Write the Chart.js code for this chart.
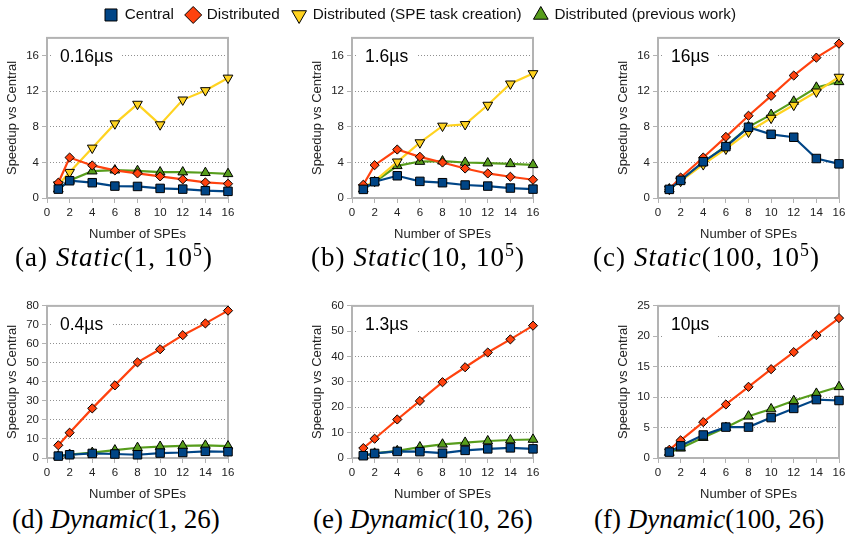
<!DOCTYPE html>
<html><head><meta charset="utf-8">
<script src="https://cdn.jsdelivr.net/npm/chart.js@4.4.0/dist/chart.umd.min.js"></script>
<style>
html,body{margin:0;padding:0;background:#fff;width:851px;height:543px;overflow:hidden;}
canvas{position:absolute;}
.cap{position:absolute;font-family:"Liberation Serif","Times New Roman",serif;font-size:27px;white-space:nowrap;line-height:28px;color:#000;}
.cap sup{font-size:0.66em;vertical-align:0;position:relative;top:-0.55em;}
</style></head><body>
<canvas id="legend"></canvas>
<canvas id="pa"></canvas><canvas id="pb"></canvas><canvas id="pc"></canvas>
<canvas id="pd"></canvas><canvas id="pe"></canvas><canvas id="pf"></canvas>
<div class="cap" id="ca">(a) <i>Static</i>(1, 10<sup>5</sup>)</div>
<div class="cap" id="cb">(b) <i>Static</i>(10, 10<sup>5</sup>)</div>
<div class="cap" id="cc">(c) <i>Static</i>(100, 10<sup>5</sup>)</div>
<div class="cap" id="cd">(d) <i>Dynamic</i>(1, 26)</div>
<div class="cap" id="ce">(e) <i>Dynamic</i>(10, 26)</div>
<div class="cap" id="cf">(f) <i>Dynamic</i>(100, 26)</div>
<script>
// ---------------- data ----------------
const spes = [1, 2, 4, 6, 8, 10, 12, 14, 16];
const seriesNames = ['Central', 'Distributed', 'Distributed (SPE task creation)', 'Distributed (previous work)'];
const panelLabels = ['0.16\u00B5s', '1.6\u00B5s', '16\u00B5s', '0.4\u00B5s', '1.3\u00B5s', '10\u00B5s'];
const xTitle = 'Number of SPEs';
const yTitle = 'Speedup vs Central';

const centralA = [1.0, 1.94, 1.72, 1.34, 1.3, 1.08, 1.0, 0.82, 0.75];
const distA    = [1.72, 4.55, 3.66, 3.1, 2.76, 2.43, 2.09, 1.75, 1.6];
const speA     = [1.5, 2.9, 5.63, 8.36, 10.56, 8.25, 11.04, 12.09, 13.5];
const prevA    = [1.0, 1.98, 3.02, 3.13, 3.06, 2.91, 2.91, 2.84, 2.72];

const centralB = [0.97, 1.83, 2.5, 1.87, 1.72, 1.46, 1.34, 1.12, 1.0];
const distB    = [1.49, 3.69, 5.45, 4.63, 3.99, 3.32, 2.76, 2.39, 2.05];
const speB     = [1.2, 1.9, 4.07, 6.23, 8.1, 8.28, 10.45, 12.84, 14.0];
const prevB    = [1.0, 1.8, 3.62, 4.1, 4.14, 3.99, 3.92, 3.84, 3.73];

const centralC = [0.97, 1.98, 4.07, 5.78, 7.95, 7.16, 6.83, 4.44, 3.84];
const distC    = [1.0, 2.3, 4.55, 6.87, 9.25, 11.49, 13.77, 15.78, 17.35];
const speC     = [1.0, 1.9, 3.77, 5.52, 7.43, 8.99, 10.45, 11.94, 13.6];
const prevC    = [1.0, 2.0, 4.0, 5.85, 8.0, 9.37, 10.86, 12.43, 13.06];

const centralD = [1.0, 1.7, 2.4, 2.1, 1.7, 2.6, 2.9, 3.5, 3.3];
const distD    = [6.7, 13.3, 26.1, 38.2, 50.3, 57.2, 64.6, 70.8, 77.5];
const prevD    = [1.0, 1.8, 2.8, 4.1, 5.4, 6.0, 6.4, 6.6, 6.2];

const centralE = [0.9, 1.8, 2.6, 2.5, 1.9, 3.0, 3.6, 4.0, 3.6];
const distE    = [3.9, 7.6, 15.2, 22.5, 29.9, 35.8, 41.6, 46.8, 52.2];
const prevE    = [0.9, 1.8, 2.8, 4.3, 5.4, 6.1, 6.7, 7.1, 7.3];

const centralF = [0.97, 2.0, 3.78, 5.08, 5.08, 6.64, 8.15, 9.6, 9.45];
const distF    = [1.35, 2.9, 5.9, 8.8, 11.7, 14.6, 17.4, 20.2, 23.0];
const prevF    = [0.9, 1.6, 3.35, 5.0, 6.86, 8.05, 9.4, 10.6, 11.7];

const yMaxes = [18, 18, 18, 80, 60, 25];
const ySteps = [4, 4, 4, 10, 10, 5];

// ---------------- styles ----------------
const COLORS = ['#004586', '#ff420e', '#ffd320', '#579d1c'];
const STYLES = [
  {pointStyle: 'rect', pointRadius: 6, pointRotation: 0},
  {pointStyle: 'rectRot', pointRadius: 4.6, pointRotation: 0},
  {pointStyle: 'triangle', pointRadius: 5.6, pointRotation: 180},
  {pointStyle: 'triangle', pointRadius: 5.6, pointRotation: 0}
];
const AXIS = '#b3b3b3';
const GRID = '#909090';
const TXT = '#222';
const SANS = '"Liberation Sans", Arial, sans-serif';

function dataset(i, values) {
  const s = STYLES[i];
  return {
    label: seriesNames[i],
    data: values ? spes.map((x, k) => ({x: x, y: values[k]})) : [],
    borderColor: COLORS[i], backgroundColor: COLORS[i],
    pointBackgroundColor: COLORS[i], pointBorderColor: '#000', pointBorderWidth: 1,
    pointStyle: s.pointStyle, pointRadius: s.pointRadius, pointHoverRadius: s.pointRadius,
    pointRotation: s.pointRotation, borderWidth: 2.2, tension: 0, clip: false
  };
}

const decor = {
  id: 'panelDecor',
  beforeDatasetsDraw(chart, args, opts) {
    const {ctx, chartArea: a} = chart;
    ctx.save();
    ctx.strokeStyle = AXIS; ctx.lineWidth = 2;
    ctx.strokeRect(a.left, a.top, a.right - a.left, a.bottom - a.top);
    ctx.font = '17.5px ' + SANS;
    const tw = ctx.measureText(opts.label).width;
    const tx = a.left + 13, ty = a.top + 19.5;
    ctx.fillStyle = '#fff';
    ctx.fillRect(a.left + 5, a.top + 4, tw + 16, 30);
    ctx.fillStyle = '#000'; ctx.textBaseline = 'middle'; ctx.textAlign = 'left';
    ctx.fillText(opts.label, tx, ty);
    ctx.restore();
  }
};

const YW = 47, PT = 8, PR = 12, XH = 45;
function makePanel(id, rect, sets, idx) {
  const cv = document.getElementById(id);
  const W = rect.R - rect.L + YW + PR, H = rect.B - rect.T + PT + XH;
  cv.width = W; cv.height = H;
  cv.style.left = (rect.L - YW) + 'px'; cv.style.top = (rect.T - PT) + 'px';
  const tickFont = {family: SANS, size: 11.5};
  const titleFont = {family: SANS, size: 13, lineHeight: 1.2};
  new Chart(cv, {
    type: 'line',
    data: {datasets: sets},
    options: {
      responsive: false, animation: false, events: [],
      layout: {padding: {left: 0, top: PT, right: PR, bottom: 0}},
      plugins: {legend: {display: false}, tooltip: {enabled: false}, panelDecor: {label: panelLabels[idx]}},
      scales: {
        x: {
          type: 'linear', min: 0, max: 16,
          ticks: {stepSize: 2, padding: 3, font: tickFont, color: TXT, autoSkip: false, maxRotation: 0},
          grid: {drawOnChartArea: false, drawTicks: true, tickLength: 5, color: AXIS, lineWidth: 1},
          border: {display: false},
          title: {display: true, text: xTitle, font: titleFont, color: TXT, padding: {top: 0, bottom: 1}},
          afterFit: s => { s.height = XH; }
        },
        y: {
          type: 'linear', min: 0, max: yMaxes[idx],
          ticks: {stepSize: ySteps[idx], includeBounds: false, padding: 3, font: tickFont, color: TXT},
          grid: {color: c => (c.tick && c.tick.value === 0) ? 'rgba(0,0,0,0)' : GRID, tickColor: AXIS, tickLength: 5, lineWidth: 1},
          border: {display: false, dash: [1, 2]},
          title: {display: true, text: yTitle, font: titleFont, color: TXT, padding: {top: 5, bottom: 0}},
          afterFit: s => { s.width = YW; }
        }
      }
    },
    plugins: [decor]
  });
}

const rA = {L: 47, R: 228, T: 36, B: 198}, rB = {L: 352, R: 533, T: 36, B: 198}, rC = {L: 658, R: 839, T: 36, B: 198};
const rD = {L: 47, R: 228, T: 304, B: 458}, rE = {L: 352, R: 533, T: 304, B: 458}, rF = {L: 658, R: 839, T: 304, B: 458};

makePanel('pa', rA, [dataset(0, centralA), dataset(1, distA), dataset(2, speA), dataset(3, prevA)], 0);
makePanel('pb', rB, [dataset(0, centralB), dataset(1, distB), dataset(2, speB), dataset(3, prevB)], 1);
makePanel('pc', rC, [dataset(0, centralC), dataset(1, distC), dataset(2, speC), dataset(3, prevC)], 2);
makePanel('pd', rD, [dataset(0, centralD), dataset(1, distD), dataset(3, prevD)], 3);
makePanel('pe', rE, [dataset(0, centralE), dataset(1, distE), dataset(3, prevE)], 4);
makePanel('pf', rF, [dataset(0, centralF), dataset(1, distF), dataset(3, prevF)], 5);

// ---------------- captions: per-row letter spacing to reference width, centre on given x ----------------
(function () {
  function spacingFor(id, target) {
    const el = document.getElementById(id);
    return Math.max(0, (target - el.getBoundingClientRect().width) / el.textContent.length);
  }
  const lsTop = spacingFor('ca', 198), lsBot = spacingFor('cd', 207);
  const caps = [['ca', 114, 258, lsTop], ['cb', 418, 258, lsTop], ['cc', 707, 258, lsTop],
                ['cd', 115.5, 519, lsBot], ['ce', 423, 519, lsBot], ['cf', 709, 519, lsBot]];
  caps.forEach(([id, cx, cy, ls]) => {
    const el = document.getElementById(id);
    el.style.letterSpacing = ls + 'px';
    const r = el.getBoundingClientRect();
    el.style.left = Math.round(cx - r.width / 2) + 'px';
    el.style.top = Math.round(cy - r.height / 2) + 'px';
  });
})();

// ---------------- legend ----------------
(function () {
  const m = document.createElement('canvas').getContext('2d');
  function w(font, t) { m.font = font; return m.measureText(t).width; }
  const probe = 'Distributed wwmmii';
  const narrow = Math.abs(w('40px monospace', probe) - w('40px "Liberation Sans Narrow", monospace', probe)) > 0.5;
  const fam = narrow ? '"Liberation Sans Narrow", "Liberation Sans", Arial, sans-serif' : SANS;
  const fs = 209 / w('100px ' + fam, seriesNames[2]) * 100;
  const BOX = 12;
  let sum = 0;
  seriesNames.forEach(n => { sum += BOX + fs / 2 + w(fs + 'px ' + fam, n); });
  const pad = Math.max(4, (631 - sum) / 3);
  const cv = document.getElementById('legend');
  cv.width = 851; cv.height = 120;
  cv.style.left = '-5px';
  cv.style.top = Math.round(14.5 - pad - fs / 2) + 'px';
  new Chart(cv, {
    type: 'line',
    data: {datasets: [0, 1, 2, 3].map(i => dataset(i, null))},
    options: {
      responsive: false, animation: false, events: [],
      layout: {padding: 0},
      scales: {x: {display: false}, y: {display: false}},
      plugins: {
        tooltip: {enabled: false},
        legend: {
          display: true, position: 'top',
          labels: {
            usePointStyle: true, boxWidth: BOX, boxHeight: BOX, padding: pad,
            font: {family: fam, size: fs}, color: '#111',
            generateLabels: chart => {
              const items = Chart.defaults.plugins.legend.labels.generateLabels(chart);
              items.forEach(it => { it.strokeStyle = '#000'; it.lineWidth = 1; });
              return items;
            }
          }
        }
      }
    }
  });
})();
</script>
</body></html>
